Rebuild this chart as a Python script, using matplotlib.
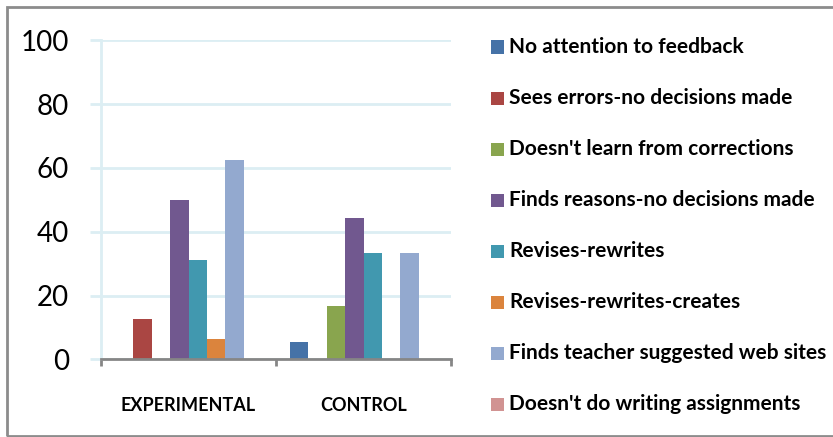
import matplotlib.pyplot as plt
from matplotlib.patches import Rectangle

# data
groups = ["EXPERIMENTAL", "CONTROL"]
labels = [
    "No attention to feedback",
    "Sees errors-no decisions made",
    "Doesn't learn from corrections",
    "Finds reasons-no decisions made",
    "Revises-rewrites",
    "Revises-rewrites-creates",
    "Finds teacher suggested web sites",
    "Doesn't do writing assignments",
]
experimental = [0, 12.5, 0, 50, 31.25, 6.25, 62.5, 0]
control = [5.56, 0, 16.67, 44.44, 33.33, 0, 33.33, 0]
colors = ["#4572A7", "#AA4643", "#89A54E", "#71588F",
          "#4198AF", "#DB843D", "#93A9CF", "#D19392"]

plt.rcParams["font.family"] = ["Lato", "DejaVu Sans"]

fig = plt.figure(figsize=(8.33, 4.37), dpi=100)
ax = fig.add_axes([101 / 833, 1 - 359.3 / 437, 350 / 833, 319 / 437])

# bars, 8 per group, group width 1
n = len(labels)
width = 0.84 / n
for i in range(n):
    xs = [g - 0.42 + width * (i + 0.5) for g in range(len(groups))]
    ax.bar(xs, [experimental[i], control[i]], width,
           color=colors[i], zorder=3)

ax.set_xlim(-0.5, 1.5)
ax.set_ylim(0, 100)

grid_c = "#DCEEF3"
ax.set_yticks([0, 20, 40, 60, 80, 100])
ax.yaxis.grid(True, color=grid_c, linewidth=2, zorder=0)
ax.tick_params(axis="y", length=8, width=2, color=grid_c, pad=15,
               labelsize=20)
ax.set_xticks([0, 1])
ax.set_xticklabels(groups, fontweight="bold", fontsize=13)
ax.tick_params(axis="x", length=0, pad=27)

# group boundary ticks on the x axis
ax.set_xticks([-0.5, 0.5, 1.5], minor=True)
ax.tick_params(axis="x", which="minor", length=5, width=2, color="#868686")

for s in ["top", "right"]:
    ax.spines[s].set_visible(False)
ax.spines["left"].set_color(grid_c)
ax.spines["left"].set_linewidth(2)
ax.spines["bottom"].set_color("#868686")
ax.spines["bottom"].set_linewidth(2)
ax.spines["bottom"].set_zorder(4)

# legend drawn by hand to match the spacing
for i, (lab, c) in enumerate(zip(labels, colors)):
    y = 47 + i * 51
    fig.add_artist(Rectangle((491 / 833, 1 - (y + 6.5) / 437), 13 / 833,
                             13 / 437, transform=fig.transFigure,
                             color=c, linewidth=0))
    fig.text(509 / 833, 1 - y / 437, lab, fontsize=15, fontweight="bold",
             va="center", ha="left")

# outer frame
fig.add_artist(Rectangle((7 / 833, 1.5 / 437), 833, 428.5 / 437,
                         transform=fig.transFigure, fill=False,
                         edgecolor="#8C8C8C", linewidth=2))

fig.savefig("out.png", dpi=100)
